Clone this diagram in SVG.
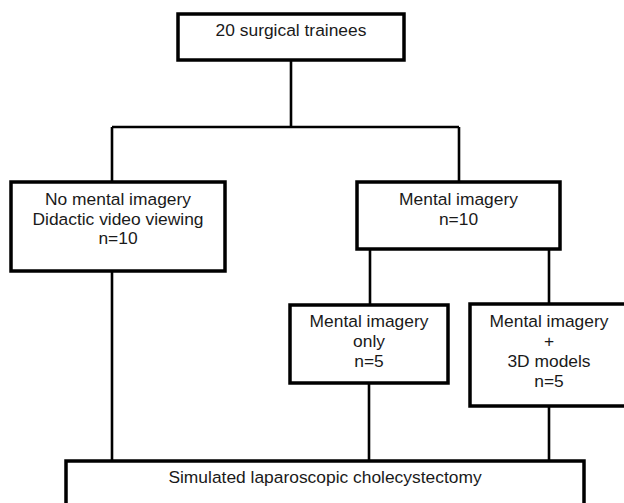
<svg xmlns="http://www.w3.org/2000/svg" width="624" height="503" viewBox="0 0 624 503">
<style>
.box{fill:#fff;stroke:#000;stroke-width:3.5}
.ln{fill:none;stroke:#000;stroke-width:2.6}
text{font-family:"Liberation Sans",Arial,sans-serif;font-size:17.4px;fill:#1a1a1a;text-anchor:middle}
</style>
<rect width="624" height="503" fill="#fff"/>
<g id="connectors">
<path class="ln" d="M291 60V127M112 127H459M112 127V182M459 127V182"/>
<path class="ln" d="M370 249V305M549 249V304"/>
<path class="ln" d="M112 271V461M369 383V461M549 406V461"/>
</g>
<g id="n-trainees">
<rect class="box" x="178" y="14" width="226" height="46"/>
<text x="291" y="36">20 surgical trainees</text>
</g>
<g id="n-nomental">
<rect class="box" x="11" y="182" width="214" height="89"/>
<text x="118" y="205">No mental imagery</text>
<text x="118" y="224.5">Didactic video viewing</text>
<text x="118" y="244">n=10</text>
</g>
<g id="n-mental">
<rect class="box" x="357" y="182" width="203" height="67"/>
<text x="458.5" y="205">Mental imagery</text>
<text x="458.5" y="224.5">n=10</text>
</g>
<g id="n-only">
<rect class="box" x="290" y="305" width="158" height="78"/>
<text x="369" y="327">Mental imagery</text>
<text x="369" y="346.5">only</text>
<text x="369" y="366.5">n=5</text>
</g>
<g id="n-3d">
<rect class="box" x="470" y="304" width="158" height="102"/>
<text x="549" y="327">Mental imagery</text>
<text x="549" y="347">+</text>
<text x="549" y="367">3D models</text>
<text x="549" y="386.5">n=5</text>
</g>
<g id="n-sim">
<rect class="box" x="66" y="461" width="518" height="60"/>
<text x="325" y="483">Simulated laparoscopic cholecystectomy</text>
</g>
</svg>
